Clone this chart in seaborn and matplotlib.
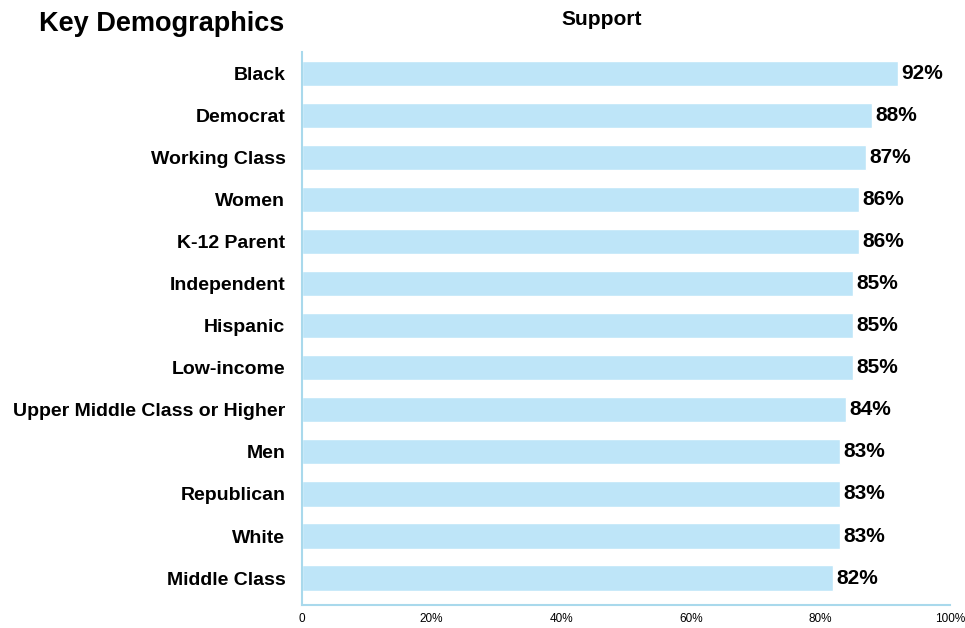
import matplotlib
matplotlib.use('Agg')
import matplotlib.pyplot as plt
import seaborn as sns
import pandas as pd

groups = ['Black', 'Democrat', 'Working Class', 'Women', 'K-12 Parent', 'Independent',
          'Hispanic', 'Low-income', 'Upper Middle Class or Higher', 'Men', 'Republican',
          'White', 'Middle Class']
support = [92, 88, 87, 86, 86, 85, 85, 85, 84, 83, 83, 83, 82]
xticks = [0, 20, 40, 60, 80, 100]
xtick_labels = ['0', '20%', '40%', '60%', '80%', '100%']

sns.set_style('white')
plt.rcParams['font.family'] = ['Liberation Sans', 'DejaVu Sans']
plt.rcParams['text.color'] = 'black'
plt.rcParams['xtick.color'] = 'black'
plt.rcParams['ytick.color'] = 'black'

df = pd.DataFrame({'group': groups, 'support': support})

fig = plt.figure(figsize=(9.65, 6.28), dpi=100)
ax = fig.add_axes([0.313, 0.0366, 0.6715, 0.8804])

sns.barplot(data=df, x='support', y='group', color='#bee5f8', saturation=1,
            width=0.6, ax=ax)

ax.set_xlim(0, 100)
ax.set_ylim(12.64, -0.5)
ax.set_xticks(xticks)
ax.set_xticklabels(xtick_labels, fontsize=8.5,
                   family=['Liberation Sans Narrow', 'Liberation Sans', 'DejaVu Sans'])
ax.tick_params(axis='x', length=0, pad=6)
ax.tick_params(axis='y', length=0, pad=12)
for lbl in ax.get_yticklabels():
    lbl.set_fontsize(14)
    lbl.set_fontweight('bold')
ax.set_xlabel('')
ax.set_ylabel('')

for s in ['top', 'right']:
    ax.spines[s].set_visible(False)
for s in ['left', 'bottom']:
    ax.spines[s].set_color('#a9d9ec')
    ax.spines[s].set_linewidth(1.5)

for i, v in enumerate(support):
    ax.text(v + 0.5, i, f'{v}%', va='center', ha='left', fontsize=15, fontweight='bold')

fig.text(0.04, 0.9506, 'Key Demographics', fontsize=19.5, fontweight='bold',
         ha='left', va='baseline')
fig.text(0.623, 0.960, 'Support', fontsize=15, fontweight='bold',
         ha='center', va='baseline')

fig.savefig('out.png', dpi=100)
